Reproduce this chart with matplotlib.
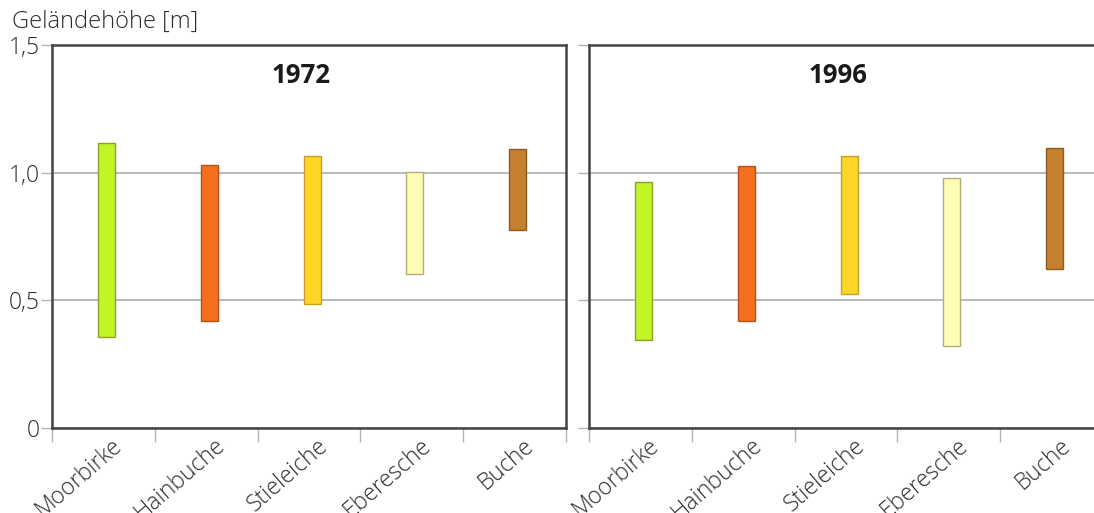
import matplotlib
matplotlib.use("Agg")
import matplotlib.pyplot as plt
import matplotlib.transforms as mtransforms
import numpy as np

plt.rcParams['font.family'] = ['Open Sans', 'DejaVu Sans']

categories = ["Moorbirke", "Hainbuche", "Stieleiche", "Eberesche", "Buche"]
years = ["1972", "1996"]
low_1972 = [0.355, 0.419, 0.487, 0.603, 0.777]
high_1972 = [1.117, 1.029, 1.067, 1.004, 1.093]
low_1996 = [0.344, 0.418, 0.526, 0.320, 0.624]
high_1996 = [0.962, 1.026, 1.064, 0.980, 1.097]
yticks = [0, 0.5, 1.0, 1.5]
ytick_labels = ["0", "0,5", "1,0", "1,5"]

fill_colors = ["#c2f527", "#f66f21", "#fcd527", "#fffdb5", "#c5802f"]
edge_colors = ["#8da326", "#b4501a", "#c4a02a", "#b4ad78", "#8c5c22"]

W, H = 1094, 513
fig = plt.figure(figsize=(W / 100, H / 100), dpi=100)

spine_col = "#444444"
grid_col = "#b4b4b4"
text_col = "#2c2c2c"

panels = [(52, low_1972, high_1972), (589, low_1996, high_1996)]
for (x0, lows, highs), year in zip(panels, years):
    ax = fig.add_axes([x0 / W, 1 - 428 / H, 514 / W, (428 - 45) / H])
    x = np.arange(len(categories))
    heights = np.array(highs) - np.array(lows)
    ax.bar(x + 0.03, heights, bottom=lows, width=0.165, color=fill_colors,
           edgecolor=edge_colors, linewidth=1.0, zorder=3)
    ax.set_xlim(-0.5, len(categories) - 0.5)
    ax.set_ylim(0, 1.5)
    ax.set_yticks(yticks)
    ax.yaxis.grid(True, color=grid_col, linewidth=1.3, zorder=1)
    ax.set_axisbelow(True)
    for s in ax.spines.values():
        s.set_color(spine_col)
        s.set_linewidth(1.8)
    ax.tick_params(axis='y', length=8, width=1.0, color=grid_col,
                   labelsize=16.5, labelcolor=text_col, pad=1)
    if x0 == 52:
        ax.set_yticklabels(ytick_labels, fontweight='light')
    else:
        ax.set_yticklabels([])
    ax.set_xticks(np.arange(len(categories) + 1) - 0.5)
    ax.set_xticklabels([])
    ax.tick_params(axis='x', length=10, width=1.0, color=grid_col)
    ax.set_xticks(x, minor=True)
    ax.set_xticklabels(categories, minor=True, rotation=41, ha='right',
                       va='top', rotation_mode='anchor', fontsize=16.5,
                       color=text_col, fontweight='light')
    ax.tick_params(axis='x', which='minor', length=0, pad=4)
    offset = mtransforms.ScaledTranslation(8 / 100, 0, fig.dpi_scale_trans)
    for lbl in ax.get_xticklabels(minor=True):
        lbl.set_transform(lbl.get_transform() + offset)
    ax.text(0.485, 0.955, year, transform=ax.transAxes, ha='center', va='top',
            fontsize=18.5, fontweight='bold', color='#1a1a1a')

fig.text(12 / W, 1 - 22 / H, "Geländehöhe [m]", fontweight='light',
         ha='left', va='center', fontsize=17, color=text_col)

fig.savefig("out.png", dpi=100)
